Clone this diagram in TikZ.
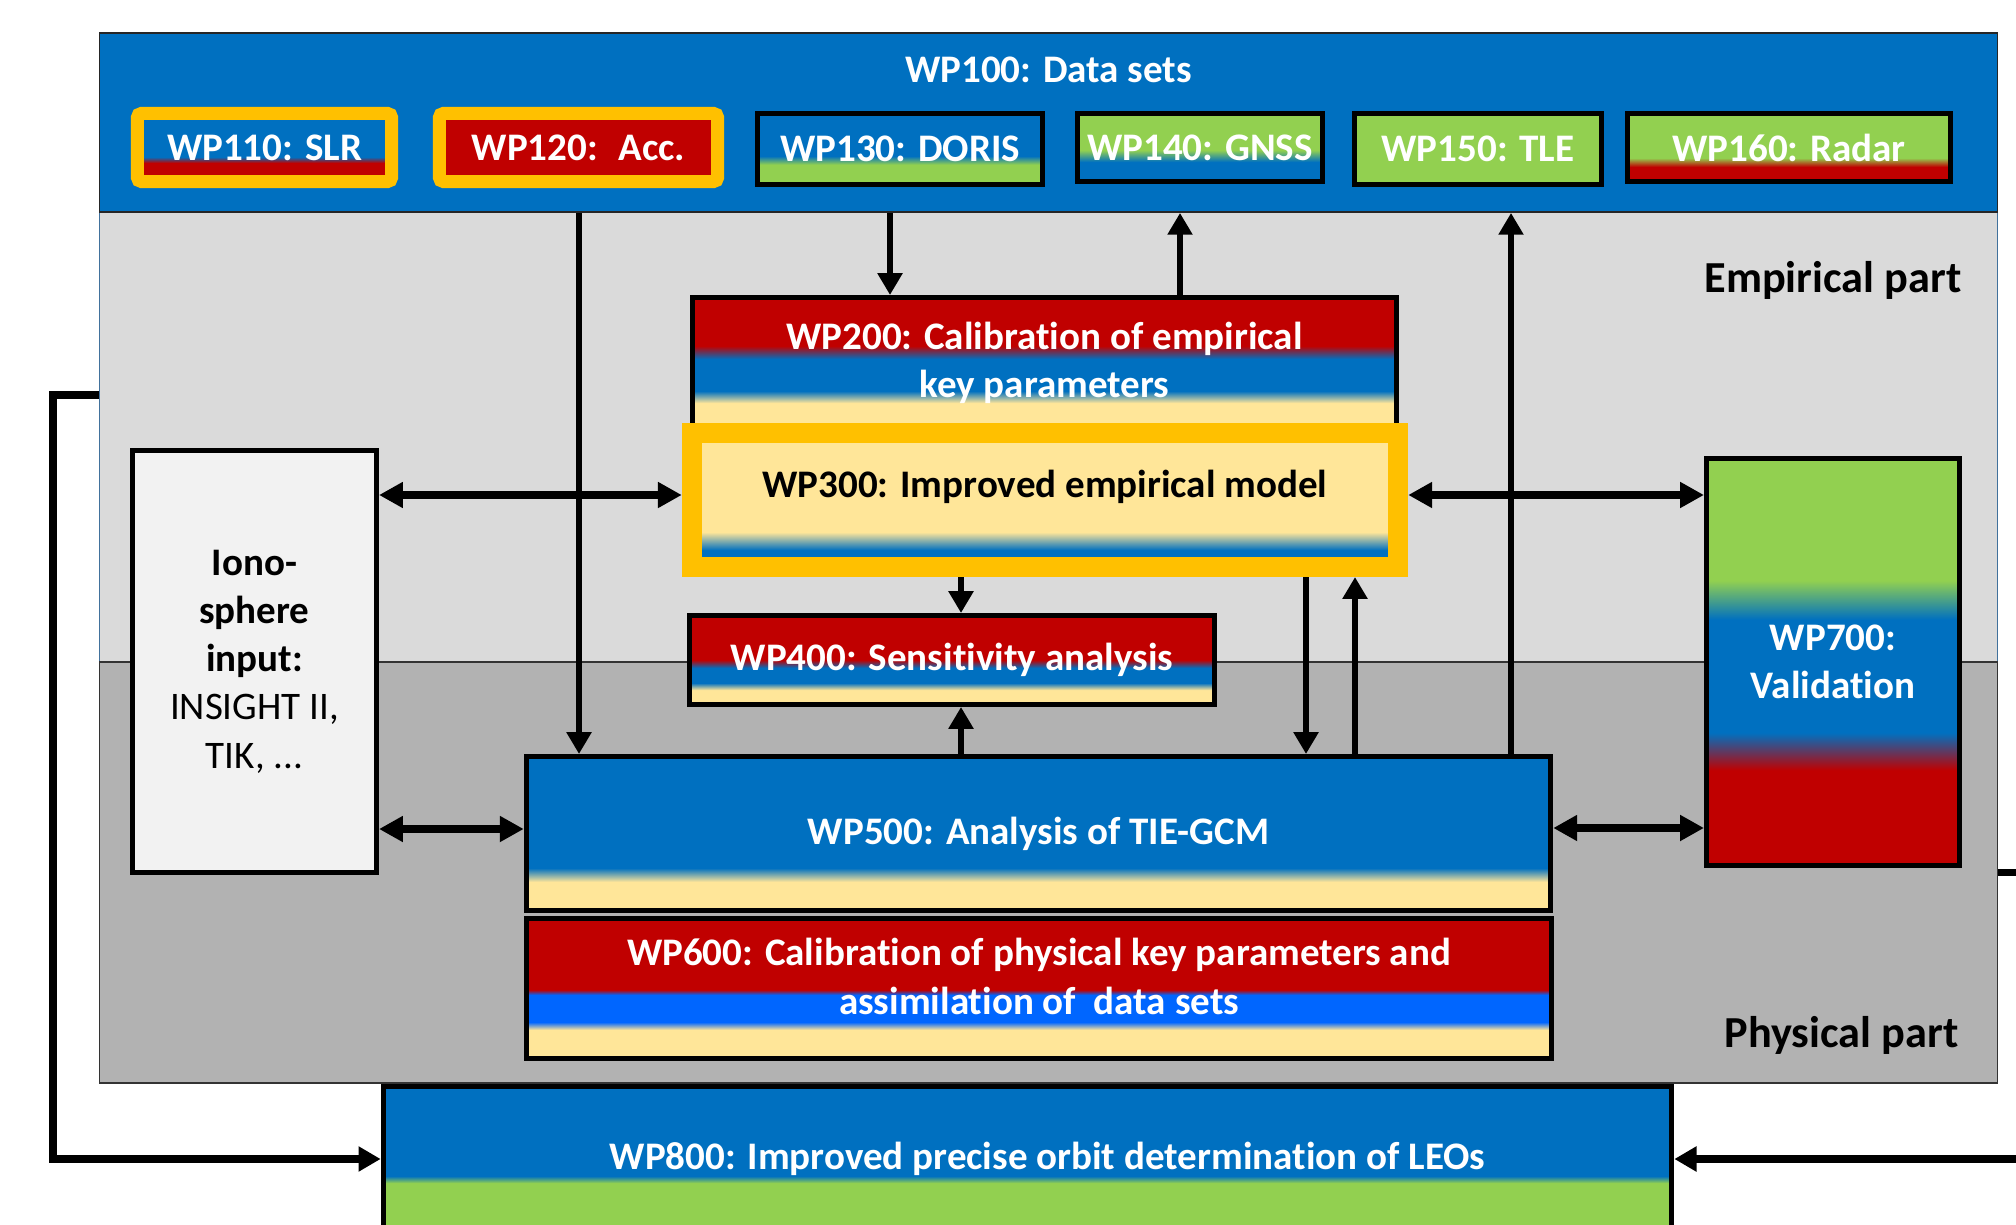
\documentclass[tikz,border=0pt]{standalone}
\usepackage{fontspec}
\setmainfont{Carlito}[Ligatures=NoCommon]
\usetikzlibrary{arrows.meta}

\definecolor{wpblue}{HTML}{0070C0}
\definecolor{wpbright}{HTML}{0066FF}
\definecolor{wpred}{HTML}{C00000}
\definecolor{wpgreen}{HTML}{92D050}
\definecolor{wpcream}{HTML}{FFE699}
\definecolor{wporange}{HTML}{FFC000}
\definecolor{empgray}{HTML}{DADADA}
\definecolor{physgray}{HTML}{B2B2B2}
\definecolor{ionogray}{HTML}{F2F2F2}
\definecolor{empline}{HTML}{41719C}

\newcommand{\wpfont}{\fontsize{11.1}{13.7}\selectfont}

% colour bands of the boxes, bottom (25bp) to top (75bp)
\pgfdeclareverticalshading{slrshade}{100bp}{color(0bp)=(wpred); color(38.6bp)=(wpred); color(43bp)=(wpblue); color(100bp)=(wpblue)}
\pgfdeclareverticalshading{dorisshade}{100bp}{color(0bp)=(wpgreen); color(39bp)=(wpgreen); color(45bp)=(wpblue); color(100bp)=(wpblue)}
\pgfdeclareverticalshading{gnssshade}{100bp}{color(0bp)=(wpblue); color(39.3bp)=(wpblue); color(48bp)=(wpgreen); color(100bp)=(wpgreen)}
\pgfdeclareverticalshading{radarshade}{100bp}{color(0bp)=(wpred); color(35.7bp)=(wpred); color(42.3bp)=(wpgreen); color(100bp)=(wpgreen)}
\pgfdeclareverticalshading{calempshade}{100bp}{color(0bp)=(wpcream); color(34.7bp)=(wpcream); color(39.3bp)=(wpblue); color(51.5bp)=(wpblue); color(56.5bp)=(wpred); color(100bp)=(wpred)}
\pgfdeclareverticalshading{empmodshade}{100bp}{color(0bp)=(wpblue); color(31.3bp)=(wpblue); color(38bp)=(wpcream); color(100bp)=(wpcream)}
\pgfdeclareverticalshading{sensshade}{100bp}{color(0bp)=(wpcream); color(33.1bp)=(wpcream); color(37.1bp)=(wpblue); color(45.5bp)=(wpblue); color(50bp)=(wpred); color(100bp)=(wpred)}
\pgfdeclareverticalshading{tieshade}{100bp}{color(0bp)=(wpcream); color(34.3bp)=(wpcream); color(38.8bp)=(wpblue); color(100bp)=(wpblue)}
\pgfdeclareverticalshading{calphysshade}{100bp}{color(0bp)=(wpcream); color(35.2bp)=(wpcream); color(38bp)=(wpbright); color(47.7bp)=(wpbright); color(49.5bp)=(wpred); color(100bp)=(wpred)}
\pgfdeclareverticalshading{validshade}{100bp}{color(0bp)=(wpred); color(36.7bp)=(wpred); color(41.3bp)=(wpblue); color(55.2bp)=(wpblue); color(60bp)=(wpgreen); color(100bp)=(wpgreen)}
\pgfdeclareverticalshading{podshade}{100bp}{color(0bp)=(wpgreen); color(41.7bp)=(wpgreen); color(44.1bp)=(wpblue); color(100bp)=(wpblue)}

\tikzstyle{region} = [rectangle, inner sep=0pt, line width=0.5pt]
\tikzstyle{wp} = [rectangle, inner sep=0pt, draw=black, line width=1.4pt, align=center, text=white, font=\wpfont\bfseries]
\tikzstyle{framed} = [wp, draw=wporange, line width=3.7pt, rounded corners=0.04cm]
\tikzstyle{wplabel} = [inner sep=0pt, align=center, text=white, font=\wpfont\bfseries]
\tikzstyle{partlabel} = [inner sep=0pt, anchor=east, font=\fontsize{12.6}{15}\selectfont\bfseries]
\tikzstyle{arrow} = [line width=1.7pt, -{Triangle[length=6.2pt,width=6.8pt]}]
\tikzstyle{dblarrow} = [line width=2pt, {Triangle[length=6.8pt,width=7pt]}-{Triangle[length=6.8pt,width=7pt]}]
\tikzstyle{looparrow} = [line width=2pt, -{Triangle[length=6.3pt,width=6.8pt]}]

\begin{document}
\begin{tikzpicture}[x=0.01cm, y=-0.01cm]

\useasboundingbox[fill=white] (0,0) rectangle (2016,1225);
\clip (0,0) rectangle (2016,1225);

% background parts
\node (emp) [region, draw=empline, fill=empgray, minimum width=18.97cm, minimum height=4.5cm] at (1048.5,437) {};
\node (phys) [region, draw=black!80, fill=physgray, minimum width=18.97cm, minimum height=4.21cm] at (1048.5,872.5) {};
\node (wp100) [region, draw=black!85, fill=wpblue, minimum width=18.97cm, minimum height=1.79cm,
  label={[wplabel, anchor=center, yshift=-0.38cm]north:{WP100: Data sets}}] at (1048.5,122.5) {};
\node [partlabel] (emplabel) at (1962,280) {Empirical part};
\node [partlabel] (physlabel) at (1959,1035) {Physical part};

% data sets
\node (wp110) [framed, shading=slrshade, minimum width=2.54cm, minimum height=0.68cm] at (264.5,147.5) {WP110: SLR};
\node (wp120) [framed, fill=wpred, minimum width=2.78cm, minimum height=0.68cm] at (578.5,147.5) {WP120:~ Acc.};
\node (wp130) [wp, shading=dorisshade, minimum width=2.85cm, minimum height=0.71cm] at (900,149) {WP130: DORIS};
\node (wp140) [wp, shading=gnssshade, minimum width=2.45cm, minimum height=0.68cm] at (1200,147.5) {WP140: GNSS};
\node (wp150) [wp, fill=wpgreen, minimum width=2.47cm, minimum height=0.71cm] at (1478,149) {WP150: TLE};
\node (wp160) [wp, shading=radarshade, minimum width=3.23cm, minimum height=0.68cm] at (1789,147.5) {WP160: Radar};

% empirical and physical work packages
\node (wp200) [wp, shading=calempshade, minimum width=7.04cm, minimum height=1.31cm] at (1044.5,363) {WP200: Calibration of empirical\\key parameters};
\node (wp300) [wp, draw=wporange, line width=5.7pt, shading=empmodshade, minimum width=7.06cm, minimum height=1.34cm,
  label={[wplabel, text=black, yshift=0.13cm]center:{WP300: Improved empirical model}}] at (1045,500) {};
\node (wp400) [wp, shading=sensshade, minimum width=5.25cm, minimum height=0.89cm] at (952,660) {WP400: Sensitivity analysis};
\node (wp500) [wp, shading=tieshade, minimum width=10.24cm, minimum height=1.54cm] at (1038.5,833.5) {WP500: Analysis of TIE-GCM};
\node (wp600) [wp, shading=calphysshade, minimum width=10.25cm, minimum height=1.4cm,
  label={[wplabel, yshift=0.12cm]center:{WP600: Calibration of physical key parameters and\\assimilation of~ data sets}}] at (1039,988.5) {};
\node (iono) [wp, fill=ionogray, text=black, font=\wpfont, minimum width=2.44cm, minimum height=4.22cm] at (254.5,661.5)
  {\textbf{Iono-}\\\textbf{sphere}\\\textbf{input:}\\INSIGHT II,\\TIK, ...};
\node (wp700) [wp, shading=validshade, minimum width=2.53cm, minimum height=4.07cm] at (1833,662) {WP700:\\Validation};
\node (wp800) [wp, shading=podshade, minimum width=12.88cm, minimum height=1.45cm,
  label={[wplabel, xshift=0.2cm]center:{WP800: Improved precise orbit determination of LEOs}}] at (1027.5,1159) {};

\coordinate (lloop) at (53,0);
\coordinate (rloop) at (2040,0);

% flows
\draw [arrow] (579,0 |- wp100.south) -- (579,0 |- wp500.north);
\draw [arrow] (890,0 |- wp100.south) -- (890,0 |- wp200.north);
\draw [arrow] (1180,0 |- wp200.north) -- (1180,0 |- wp100.south);
\draw [arrow] (1511,0 |- wp500.north) -- (1511,0 |- wp100.south);
\draw [arrow] (961,0 |- wp300.south) -- (961,0 |- wp400.north);
\draw [arrow] (961,0 |- wp500.north) -- (961,0 |- wp400.south);
\draw [arrow] (1306,0 |- wp300.south) -- (1306,0 |- wp500.north);
\draw [arrow] (1355,0 |- wp500.north) -- (1355,0 |- wp300.south);

\draw [dblarrow] (iono.east |- 0,495) -- (wp300.west |- 0,495);
\draw [dblarrow] (wp300.east |- 0,495) -- (wp700.west |- 0,495);
\draw [dblarrow] (iono.east |- 0,829) -- (wp500.west |- 0,829);
\draw [dblarrow] (wp500.east |- 0,828) -- (wp700.west |- 0,828);

% feedback into orbit determination
\draw [looparrow] (emp.west |- 0,395) -| (lloop |- wp800.west) -- (wp800.west);
\draw [looparrow] (phys.east) -| (rloop |- wp800.east) -- (wp800.east);

\end{tikzpicture}
\end{document}
